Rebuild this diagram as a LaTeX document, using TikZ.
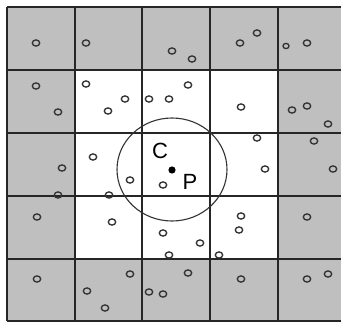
\documentclass[tikz,border=0pt]{standalone}
\usepackage{fontspec}
\setmainfont{Liberation Sans}
\begin{document}
\begin{tikzpicture}[x=1pt,y=-1pt,
  gridline/.style={line width=1.5pt,draw=black!85},
  pt/.style={line width=1.35pt,draw=black!80},
  lbl/.style={font=\fontsize{22}{24}\selectfont,inner sep=0pt}]
\useasboundingbox (0,0) rectangle (341,322);
\clip (0,0) rectangle (341,322);
\fill[white] (0,0) rectangle (341,322);
\fill[black!25] (7,7) rectangle (346,321);
\fill[white] (75,70) rectangle (278,259);
\foreach \x in {7,75,142,210,278,346} \draw[gridline] (\x,7) -- (\x,321);
\foreach \y in {7,70,133,196,259,321} \draw[gridline] (7,\y) -- (346,\y);
\foreach \p in {(36,43),(86,43),(172,51),(192,59),(240,43),(257,33),(307,43),
  (36,86),(86,84),(125,99),(108,111),(58,112),(149,99),(169,99),(188,85),(241,107),(292,110),(307,106),
  (328,124),(257,138),(314,141),(93,157),(62,168),(265,169),(333,169),(130,180),(163,185),(58,195),(109,195),
  (37,217),(112,222),(241,216),(239,230),(307,217),(163,233),(200,243),(169,255),(219,255),
  (37,279),(130,274),(87,291),(105,308),(188,273),(149,292),(163,294),(241,279),(307,279),(328,274)}
  \draw[pt] \p ellipse[x radius=3.7,y radius=3.1];
\draw[pt] (286,46) ellipse[x radius=3,y radius=2.6];
\draw[line width=1.1pt,draw=black!80] (172,169.5) ellipse[x radius=55,y radius=51.5];
\fill (172,170) circle[radius=3.6];
\node[lbl] (C) at (160,151) {C};
\node[lbl] (P) at (190,182) {P};
\end{tikzpicture}
\end{document}
